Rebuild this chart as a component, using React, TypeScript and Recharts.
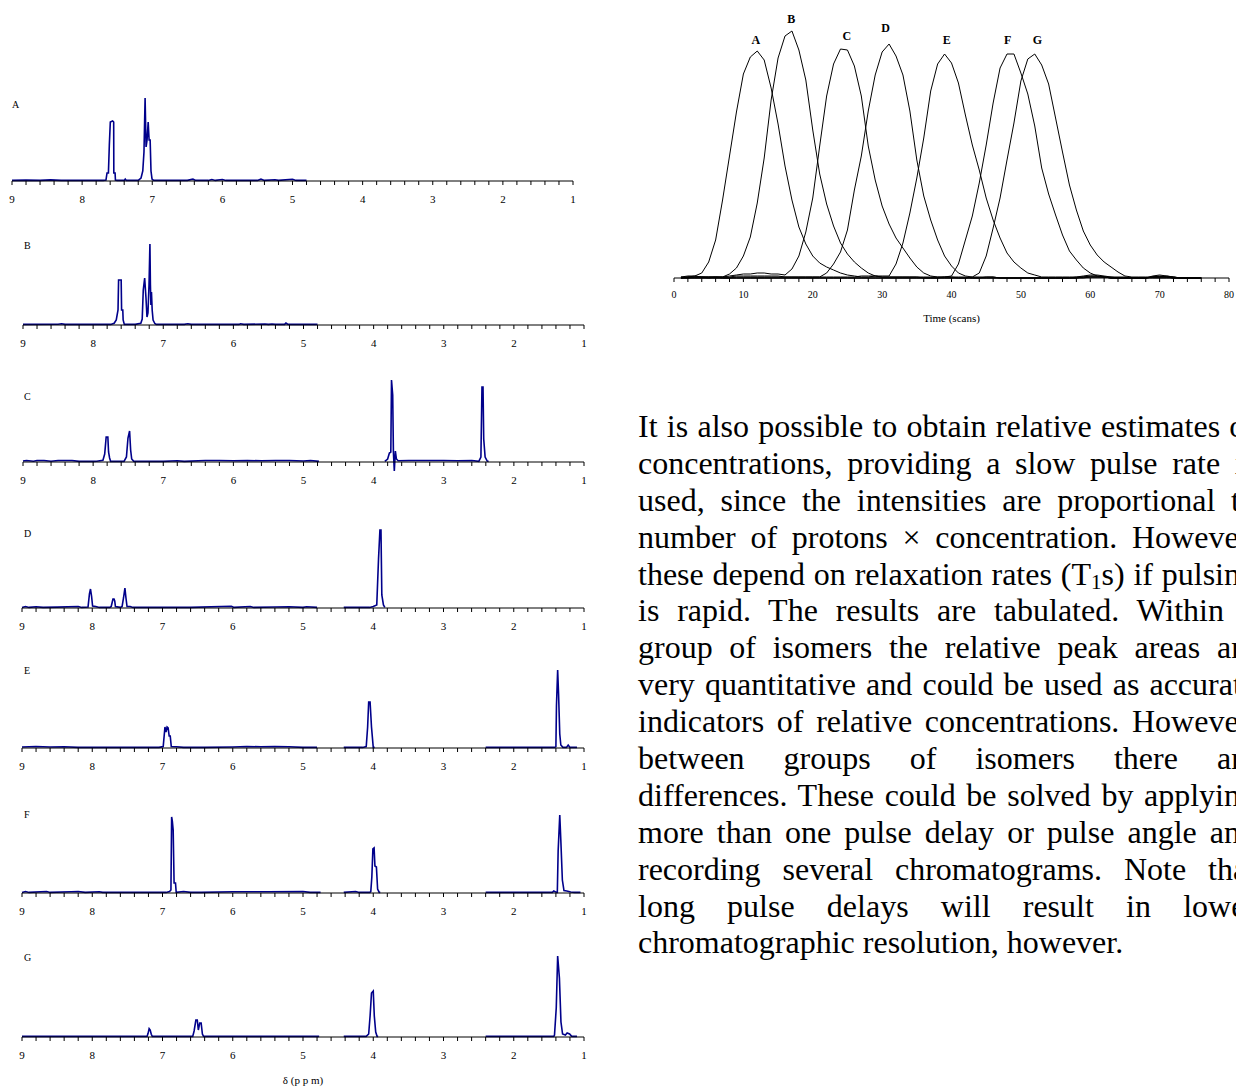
import React from 'react';
import { LineChart, Line, XAxis, YAxis, ReferenceDot } from 'recharts';

const serif = '"Liberation Serif", "Times New Roman", serif';

// ---- NMR spectra: [ppm, intensity]; null = gap in the trace ----
const ppmTicks = [9, 8.8, 8.6, 8.4, 8.2, 8, 7.8, 7.6, 7.4, 7.2, 7, 6.8, 6.6, 6.4, 6.2, 6, 5.8, 5.6, 5.4, 5.2, 5, 4.8, 4.6, 4.4, 4.2, 4, 3.8, 3.6, 3.4, 3.2, 3, 2.8, 2.6, 2.4, 2.2, 2, 1.8, 1.6, 1.4, 1.2, 1];

type Pt = [number, number | null];

const spectrumA: Pt[] = [
  [9.0, 0.6], [8.8, 0.9], [8.6, 0.6], [8.45, 1.1], [8.3, 0.6], [8.0, 0.6], [7.7, 0.6], [7.66, 1], [7.645, 8], [7.625, 8],
  [7.612, 36], [7.598, 59], [7.565, 60], [7.55, 59], [7.548, 8], [7.53, 8], [7.525, 1], [7.5, 0.6], [7.4, 0.6], [7.385, 2],
  [7.37, 0.6], [7.2, 0.6], [7.16, 3], [7.135, 10], [7.118, 29], [7.102, 83], [7.088, 34], [7.074, 41], [7.058, 59], [7.045, 41],
  [7.03, 41], [7.018, 10], [7.003, 2], [6.98, 0.6], [6.5, 0.6], [6.42, 1.8], [6.38, 0.6], [6.2, 0.6], [6.15, 1.5], [6.1, 0.6],
  [6.0, 1.5], [5.95, 0.6], [5.5, 0.6], [5.45, 1.8], [5.4, 0.6], [5.25, 1.2], [5.2, 0.6], [5.0, 1.8], [4.95, 0.6], [4.8, 0.6],
];

const spectrumB: Pt[] = [
  [9.0, 0.6], [8.5, 0.8], [8.45, 1.2], [8.4, 0.6], [8.0, 0.6], [7.75, 0.6], [7.7, 1.7], [7.67, 5], [7.645, 15], [7.637, 45],
  [7.6, 45], [7.594, 15], [7.577, 15], [7.572, 5], [7.555, 0.6], [7.4, 0.6], [7.32, 1.7], [7.3, 6], [7.285, 35], [7.265, 47],
  [7.247, 28], [7.232, 8], [7.218, 12], [7.203, 40], [7.19, 81], [7.183, 40], [7.176, 20], [7.168, 33], [7.158, 15], [7.145, 5],
  [7.12, 1.5], [7.1, 0.6], [6.7, 0.6], [6.65, 1.2], [6.6, 0.6], [5.92, 0.6], [5.9, 1.2], [5.85, 0.6], [5.55, 1], [5.5, 0.6],
  [5.45, 1], [5.4, 0.6], [5.27, 0.6], [5.25, 2], [5.22, 0.6], [4.8, 0.6],
];

const spectrumC: Pt[] = [
  [9.0, 1], [8.95, 1.5], [8.85, 0.8], [8.8, 1.5], [8.7, 1.5], [8.6, 0.8], [8.5, 1.5], [8.3, 1.5], [8.2, 0.6], [8.0, 0.6],
  [7.95, 0.8], [7.86, 1.7], [7.835, 8], [7.814, 25], [7.79, 25], [7.78, 10], [7.765, 4], [7.75, 0.6], [7.56, 0.6], [7.525, 5],
  [7.503, 24], [7.48, 31], [7.465, 12], [7.45, 3], [7.42, 0.6], [7.0, 0.6], [6.8, 1.2], [6.7, 0.6], [6.4, 1.5], [6.2, 1.5],
  [6.0, 1.2], [5.8, 1.5], [5.6, 1.2], [5.4, 1.5], [5.2, 1.5], [5.0, 1], [4.9, 1.5], [4.78, 0.6], [4.3, null],
  [3.84, 0.6], [3.8, 3], [3.775, 9], [3.755, 10], [3.745, 82], [3.728, 67], [3.718, 10], [3.705, -9], [3.69, 11], [3.675, 3],
  [3.65, 1.2], [3.5, 1.5], [3.4, 1.5], [3.2, 1.5], [3.0, 1.5], [2.8, 1.2], [2.6, 1.5], [2.5, 0.6], [2.47, 5], [2.455, 75],
  [2.44, 75], [2.43, 23], [2.41, 5], [2.38, 1], [2.36, 0.6],
];

const spectrumD: Pt[] = [
  [9.0, 0.6], [8.95, 1.5], [8.9, 0.6], [8.8, 1.2], [8.7, 0.6], [8.5, 0.9], [8.2, 1.5], [8.15, 0.6], [8.06, 1], [8.04, 14],
  [8.025, 19], [8.01, 12], [7.995, 2], [7.95, 1.5], [7.9, 0.6], [7.75, 0.6], [7.73, 1.5], [7.715, 6], [7.705, 9], [7.69, 9],
  [7.68, 7], [7.67, 1.5], [7.6, 0.6], [7.575, 1.5], [7.555, 10], [7.535, 20], [7.52, 10], [7.505, 1.5], [7.46, 1.5], [7.42, 0.6],
  [7.0, 0.6], [6.6, 0.6], [6.02, 1.8], [5.98, 0.6], [5.75, 1.5], [5.7, 0.6], [5.4, 1], [5.2, 1.2], [5.0, 0.6], [4.95, 1.2],
  [4.8, 0.6], [4.6, null], [4.42, 0.6], [4.05, 0.6], [4.0, 1.5], [3.95, 3], [3.925, 49], [3.905, 78], [3.89, 78], [3.878, 13],
  [3.855, 3], [3.835, 0.6],
];

const spectrumE: Pt[] = [
  [9.0, 1], [8.8, 1.5], [8.6, 1], [8.4, 1.2], [8.2, 0.6], [7.9, 0.6], [7.5, 0.6], [7.05, 0.6], [6.99, 1.5], [6.965, 21],
  [6.95, 16], [6.935, 21], [6.92, 20], [6.905, 12], [6.89, 12], [6.875, 1.5], [6.8, 1.2], [6.7, 0.6], [6.4, 0.6], [6.0, 1],
  [5.8, 1.5], [5.6, 1.2], [5.4, 1.5], [5.2, 1.2], [5.0, 0.6], [4.8, 0.6], [4.6, null], [4.42, 0.6], [4.15, 0.6], [4.1, 1.5],
  [4.08, 21], [4.065, 46], [4.045, 46], [4.025, 21], [4.0, 0.6], [3.98, 0.6], [3.2, null], [2.4, 0.6], [2.0, 0.6], [1.42, 0.6],
  [1.4, 1.5], [1.392, 42], [1.375, 78], [1.362, 54], [1.345, 14], [1.33, 3], [1.3, 0.6], [1.25, 0.6], [1.225, 3], [1.2, 0.6],
  [1.1, 0.6],
];

const spectrumF: Pt[] = [
  [9.0, 0.6], [8.95, 1.5], [8.9, 0.6], [8.65, 1.5], [8.6, 0.6], [8.3, 1.2], [8.2, 1.5], [8.1, 0.6], [7.9, 1.2], [7.85, 0.6],
  [7.4, 0.6], [6.95, 0.6], [6.9, 1.5], [6.88, 3], [6.87, 76], [6.86, 72], [6.848, 63], [6.835, 10], [6.815, 10], [6.805, 0.6],
  [6.7, 1.5], [6.6, 0.6], [6.45, 0.6], [6.0, 1.2], [5.5, 1.2], [5.0, 1.5], [4.9, 0.6], [4.75, 0.6], [4.6, null], [4.42, 0.6],
  [4.25, 1.5], [4.2, 0.6], [4.05, 0.6], [4.035, 1.5], [4.02, 16], [4.005, 44], [3.988, 45], [3.976, 27], [3.955, 26], [3.938, 4],
  [3.915, 0.6], [3.9, 0.6], [3.2, null], [2.4, 0.6], [1.45, 0.6], [1.43, 2], [1.39, 0.6], [1.38, 0.6], [1.368, 42], [1.345, 78],
  [1.33, 53], [1.308, 13], [1.285, 2.5], [1.245, 2], [1.19, 1], [1.135, 0.6], [1.05, 0.6],
];

const spectrumG: Pt[] = [
  [9.0, 0.6], [7.22, 0.6], [7.205, 3.7], [7.19, 8.4], [7.175, 7], [7.16, 2.7], [7.145, 0.6], [6.57, 0.6], [6.55, 6], [6.525, 17],
  [6.505, 17], [6.49, 7], [6.47, 14], [6.45, 14], [6.432, 3], [6.415, 0.6], [4.77, 0.6], [4.6, null], [4.42, 0.6], [4.1, 0.6],
  [4.065, 3], [4.045, 21], [4.025, 44], [4.0, 46], [3.985, 21], [3.965, 5], [3.945, 0.6], [3.93, 0.6], [3.2, null], [2.4, 0.6],
  [1.43, 0.6], [1.42, 2], [1.395, 29], [1.375, 81], [1.35, 59], [1.328, 15], [1.305, 3], [1.265, 2], [1.24, 4], [1.205, 3],
  [1.175, 0.6], [1.1, 0.6],
];

// ---- chromatogram: one value per scan, scans 1..76 ----
const peakNames = ['A', 'B', 'C', 'D', 'E', 'F', 'G'];
const traceA = [1, 2, 2, 5, 16, 38, 78, 122, 166, 204, 221, 227, 218, 190, 154, 112, 78, 51, 34, 22, 15, 11, 8, 5, 3, 2, 1, 1, 2, 1, 1, 1, 1, 1, 1, 1, 1, 1, 1, 1, 0, 0, 0, 0, 1, 1, 0, 0, 0, 0, 0, 0, 0, 0, 0, 0, 0, 1, 2, 3, 3, 2, 1, 0, 0, 0, 0, 0, 1, 2, 1, 0, 0, 0, 0, 0];
const traceB = [0, 1, 1, 1, 0, 1, 1, 4, 10, 22, 41, 75, 120, 178, 220, 242, 247, 228, 198, 148, 104, 74, 52, 35, 24, 16, 10, 5, 2, 1, 1, 1, 1, 1, 1, 0, 0, 0, 0, 0, 0, 0, 0, 0, 0, 0, 0, 0, 0, 0, 0, 0, 0, 0, 0, 0, 0, 0, 1, 1, 1, 1, 0, 0, 0, 0, 0, 0, 2, 3, 2, 1, 0, 0, 0, 0];
const traceC = [1, 1, 2, 1, 1, 1, 1, 2, 3, 4, 4, 5, 5, 4, 4, 3, 9, 22, 46, 80, 132, 182, 214, 229, 228, 212, 182, 132, 98, 72, 54, 40, 30, 20, 11, 5, 2, 1, 1, 1, 1, 1, 0, 0, 0, 0, 0, 0, 0, 0, 0, 0, 0, 0, 0, 0, 0, 0, 1, 2, 2, 1, 0, 0, 0, 0, 0, 0, 1, 1, 2, 1, 0, 0, 0, 0];
const traceD = [0, 1, 1, 1, 1, 1, 1, 1, 2, 2, 2, 2, 2, 2, 2, 1, 1, 1, 1, 1, 1, 5, 14, 26, 48, 88, 122, 167, 203, 226, 234, 222, 203, 167, 118, 82, 58, 38, 22, 12, 5, 2, 1, 1, 1, 1, 0, 0, 0, 0, 0, 0, 0, 0, 0, 0, 0, 0, 0, 1, 1, 1, 0, 0, 0, 0, 0, 0, 1, 1, 1, 0, 0, 0, 0, 0];
const traceE = [0, 0, 1, 1, 1, 1, 0, 0, 1, 1, 1, 1, 1, 1, 1, 1, 1, 1, 1, 1, 1, 1, 1, 1, 1, 1, 2, 2, 2, 2, 2, 14, 35, 65, 100, 140, 187, 214, 224, 215, 195, 163, 133, 108, 80, 58, 40, 25, 16, 10, 5, 3, 1, 1, 1, 1, 1, 1, 1, 1, 1, 1, 0, 0, 0, 0, 0, 0, 1, 1, 1, 0, 0, 0, 0, 0];
const traceF = [0, 0, 0, 0, 0, 0, 0, 0, 0, 0, 0, 0, 0, 0, 0, 0, 0, 0, 0, 0, 0, 0, 0, 0, 0, 0, 0, 0, 0, 0, 0, 0, 0, 0, 0, 0, 0, 0, 1, 2, 14, 38, 62, 95, 133, 175, 210, 224, 224, 205, 184, 152, 110, 84, 63, 43, 27, 18, 10, 5, 2, 1, 1, 1, 1, 0, 0, 0, 0, 0, 0, 0, 0, 0, 0, 0];
const traceG = [0, 0, 0, 0, 0, 0, 0, 0, 0, 0, 0, 0, 0, 0, 0, 0, 0, 0, 0, 0, 0, 0, 0, 0, 0, 0, 0, 0, 0, 0, 0, 0, 0, 0, 0, 0, 0, 0, 0, 0, 0, 0, 1, 5, 22, 50, 80, 118, 155, 197, 219, 224, 213, 194, 160, 126, 93, 68, 47, 33, 23, 16, 11, 6, 2, 1, 1, 1, 1, 1, 1, 1, 0, 0, 0, 0];
const timeTicks = [0, 2, 4, 6, 8, 10, 12, 14, 16, 18, 20, 22, 24, 26, 28, 30, 32, 34, 36, 38, 40, 42, 44, 46, 48, 50, 52, 54, 56, 58, 60, 62, 64, 66, 68, 70, 72, 74, 76, 78, 80];
const peakLabelTime = [11.8, 16.9, 24.9, 30.5, 39.3, 48.1, 52.4];
const peakLabelHeight = [238, 259, 242, 250, 238, 238, 238];

const paragraph = [
  'It is also possible to obtain relative estimates of',
  'concentrations, providing a slow pulse rate is',
  'used, since the intensities are proportional to',
  'number of protons \u00d7 concentration. However,',
  'these depend on relaxation rates (T_1s) if pulsing',
  'is rapid. The results are tabulated. Within a',
  'group of isomers the relative peak areas are',
  'very quantitative and could be used as accurate',
  'indicators of relative concentrations. However,',
  'between groups of isomers there are',
  'differences. These could be solved by applying',
  'more than one pulse delay or pulse angle and',
  'recording several chromatograms. Note that',
  'long pulse delays will result in lower',
  'chromatographic resolution, however.',
];

const panels = [
  { name: 'A', points: spectrumA, axisY: 181, x0: 12, x1: 573, labelX: 16, labelY: 105 },
  { name: 'B', points: spectrumB, axisY: 325, x0: 23, x1: 584, labelX: 28, labelY: 246 },
  { name: 'C', points: spectrumC, axisY: 462, x0: 23, x1: 584, labelX: 28, labelY: 397 },
  { name: 'D', points: spectrumD, axisY: 608, x0: 22, x1: 584, labelX: 28, labelY: 534 },
  { name: 'E', points: spectrumE, axisY: 748, x0: 22, x1: 584, labelX: 28, labelY: 671 },
  { name: 'F', points: spectrumF, axisY: 893, x0: 22, x1: 584, labelX: 28, labelY: 815 },
  { name: 'G', points: spectrumG, axisY: 1037, x0: 22, x1: 584, labelX: 28, labelY: 958 },
];

function NmrPanel({ name, points, axisY, x0, x1, labelX, labelY }: any) {
  const rows = points.map(([ppm, v]: Pt) => ({ ppm, v }));
  return (
    <>
      <div style={{ position: 'absolute', left: 0, top: axisY - 100 }}>
        <LineChart width={600} height={130} data={rows} margin={{ top: 5, right: 600 - x1, bottom: 0, left: x0 }}>
          <XAxis
            type="number"
            dataKey="ppm"
            domain={[1, 9]}
            reversed
            ticks={ppmTicks}
            interval={0}
            tickFormatter={(v: number) => (Number.isInteger(v) ? String(v) : '')}
            tickSize={4}
            tickMargin={10}
            height={30}
            stroke="#000"
            tick={{ fontSize: 11, fill: '#000', fontFamily: serif }}
          />
          <YAxis hide width={0} domain={[0, 95]} allowDataOverflow />
          <Line
            type="linear"
            dataKey="v"
            stroke="#00008b"
            strokeWidth={1.6}
            dot={false}
            connectNulls={false}
            isAnimationActive={false}
          />
        </LineChart>
      </div>
      <div style={{ position: 'absolute', left: labelX - 4, top: labelY - 6, fontFamily: serif, fontSize: 10, lineHeight: '12px' }}>
        {name}
      </div>
    </>
  );
}

function Chromatogram() {
  const traces = [traceA, traceB, traceC, traceD, traceE, traceF, traceG];
  const rows = traceA.map((_, i) => {
    const row: any = { t: i + 1 };
    peakNames.forEach((k, j) => { row[k] = traces[j][i]; });
    return row;
  });
  return (
    <div style={{ position: 'absolute', left: 640, top: 0 }}>
      <LineChart width={596} height={328} data={rows} margin={{ top: 10, right: 7, bottom: 0, left: 34 }}>
        <XAxis
          type="number"
          dataKey="t"
          domain={[0, 80]}
          ticks={timeTicks}
          interval={0}
          tickFormatter={(v: number) => (v % 10 === 0 ? String(v) : '')}
          tickSize={4}
          tickMargin={9}
          height={50}
          stroke="#000"
          tick={{ fontSize: 10, fill: '#000', fontFamily: serif }}
          label={{ value: 'Time (scans)', position: 'insideBottom', offset: 6, fontSize: 11, fill: '#000', fontFamily: serif }}
        />
        <YAxis hide width={0} domain={[0, 268]} />
        {peakNames.map((k) => (
          <Line key={k} type="linear" dataKey={k} stroke="#000" strokeWidth={1} dot={false} isAnimationActive={false} />
        ))}
        {peakNames.map((k, i) => (
          <ReferenceDot
            key={'l' + k}
            x={peakLabelTime[i]}
            y={peakLabelHeight[i]}
            r={0}
            fill="none"
            stroke="none"
            label={{ value: k, position: 'center', fontSize: 12, fontWeight: 'bold', fill: '#000', fontFamily: serif }}
          />
        ))}
      </LineChart>
    </div>
  );
}

function Paragraph() {
  return (
    <div style={{ position: 'absolute', left: 638, top: 408, width: 618, fontFamily: serif, fontSize: 32, lineHeight: '36.9px', color: '#000' }}>
      {paragraph.map((line, i) => {
        const last = i === paragraph.length - 1;
        const parts = line.split('_1');
        return (
          <div key={i} style={{ textAlign: last ? 'left' : 'justify', textAlignLast: last ? 'left' : 'justify', height: 36.9 } as any}>
            {parts.length > 1 ? (
              <>
                {parts[0]}
                <span style={{ fontSize: 21, verticalAlign: '-4px', lineHeight: 0 }}>1</span>
                {parts[1]}
              </>
            ) : line}
          </div>
        );
      })}
    </div>
  );
}

export default function App() {
  return (
    <div style={{ position: 'absolute', left: 0, top: 0, width: 1236, height: 1090, overflow: 'hidden', background: '#fff' }}>
      <style>{'.recharts-line, .recharts-line * { clip-path: none !important; }'}</style>
      {panels.map((p) => (
        <NmrPanel key={p.name} {...p} />
      ))}
      <div style={{ position: 'absolute', left: 253, top: 1074, width: 100, textAlign: 'center', fontFamily: serif, fontSize: 11 }}>
        δ (p p m)
      </div>
      <Chromatogram />
      <Paragraph />
    </div>
  );
}
